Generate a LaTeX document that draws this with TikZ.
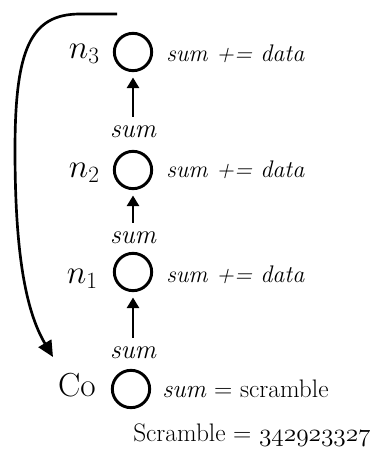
\RequirePackage{fix-cm}
\documentclass[tikz,border=0pt]{standalone}
\usepackage{fontspec}
\usetikzlibrary{arrows.meta}

\begin{document}
\begin{tikzpicture}[x=0.75pt, y=-0.75pt,
    ring/.style={draw, circle, line width=2.2pt, minimum size=28pt, inner sep=0pt},
    rank/.style={font=\fontsize{25}{29}\selectfont, anchor=base east, inner sep=0pt},
    rule/.style={font=\fontsize{18}{22}\selectfont, anchor=base west, inner sep=0pt},
    carry/.style={font=\fontsize{20}{24}\selectfont\itshape, anchor=base, inner sep=0pt},
    push/.style={-{Triangle[length=8pt, width=9pt]}, line width=2pt, shorten <=6pt, shorten >=4pt},
    wrap/.style={-{Triangle[length=12pt, width=11pt]}, line width=2pt}]
    \useasboundingbox (0,0) rectangle (370,457);
    % the ring of nodes, bottom to top
    \node[ring] (co) at (131,389) {};
    \node[ring] (n1) at (133,272) {};
    \node[ring] (n2) at (133,170) {};
    \node[ring] (n3) at (133,52) {};
    % names on the left
    \node[rank] (rco) at (96,396) {Co};
    \node[rank] (r1) at (98,283) {$n_1$};
    \node[rank] (r2) at (100,177) {$n_2$};
    \node[rank] (r3) at (100,58) {$n_3$};
    % what each node does
    \node[rule] (dco) at (162,397) {\fontsize{19}{22}\selectfont\textit{sum} = scramble};
    \node[rule] (d1) at (166,282) {\textit{sum += data}};
    \node[rule] (d2) at (166,177) {\textit{sum += data}};
    \node[rule] (d3) at (166,61) {\textit{sum += data}};
    \node[rule] (seed) at (133,441) {\fontsize{19}{22}\selectfont Scramble = $\mathnormal{342923327}$};
    % the value passed up
    \node[carry] (s1) at (133,358) {sum};
    \node[carry] (s2) at (133,243) {sum};
    \node[carry] (s3) at (133,137) {sum};
    \draw[push] (s1) -- (n1);
    \draw[push] (s2) -- (n2);
    \draw[push] (s3) -- (n3);
    % back round to the start
    \coordinate (top) at (117,14);
    \coordinate (back) at (53,357);
    \draw[wrap] (top) -- (80,14) .. controls (30,14) and (15,50) .. (15,150)
        .. controls (15,250) and (25,310) .. (back);
\end{tikzpicture}
\end{document}
